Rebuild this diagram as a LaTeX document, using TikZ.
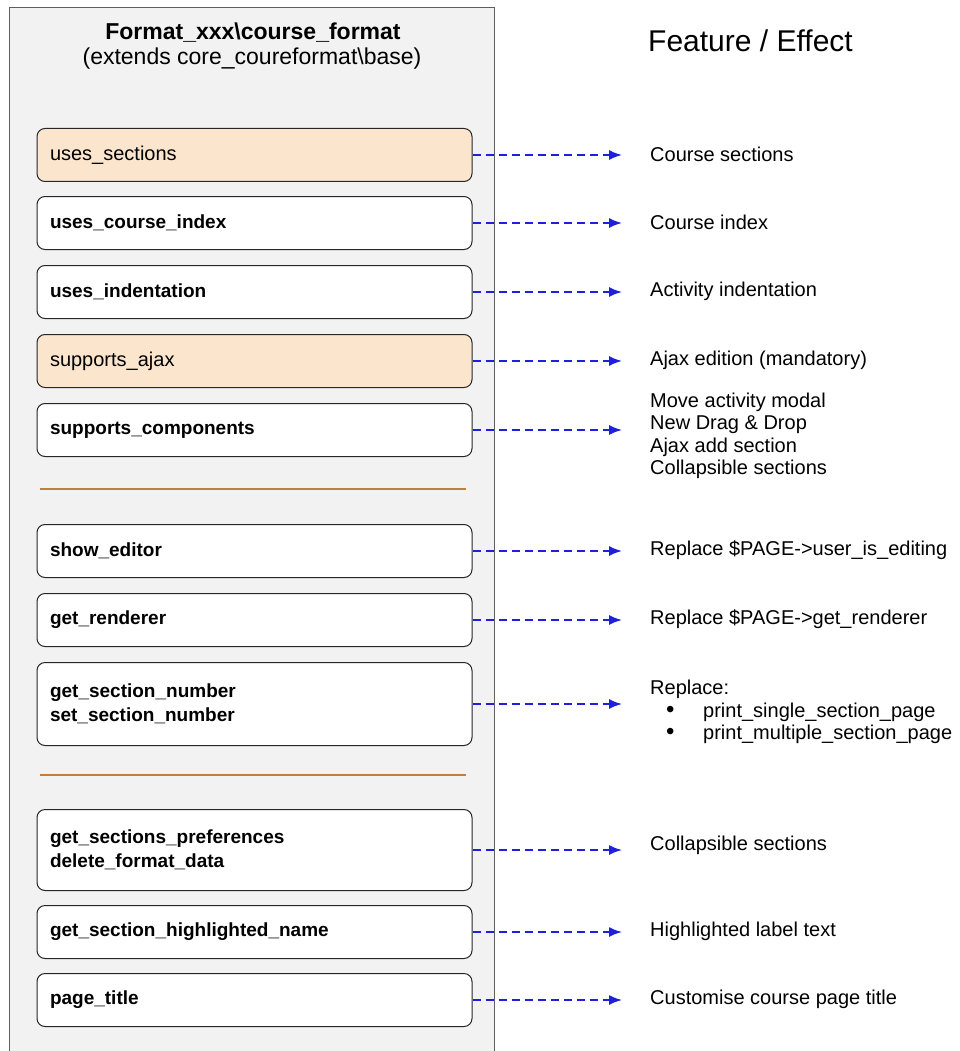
\documentclass[tikz,border=0pt]{standalone}
\usepackage{fontspec}
\setmainfont{Liberation Sans}
\usetikzlibrary{arrows,arrows.meta,positioning}

\definecolor{panelgray}{HTML}{F2F2F2}
\definecolor{paneledge}{HTML}{5F5F5F}
\definecolor{peach}{HTML}{FCE5CD}
\definecolor{rulebrown}{HTML}{C07F3E}
\definecolor{linkblue}{HTML}{1F1FE0}

\newcommand{\effbullet}{\makebox[53pt][l]{\hspace*{16pt}\smash{\fontsize{24}{20}\selectfont\textbullet}}}

\begin{document}
\begin{tikzpicture}[x=1pt,y=1pt,
	method/.style={draw=black!85,line width=1pt,rounded corners=8pt,fill=white,anchor=north,minimum height=53pt,text width=409pt,inner xsep=13pt,align=left,font=\fontsize{19}{24}\selectfont\bfseries},
	plainmethod/.style={method,fill=peach,font=\fontsize{20}{24}\selectfont},
	effect/.style={anchor=west,inner sep=4pt,align=left,font=\fontsize{20}{22.5}\selectfont},
	seprule/.style={rulebrown,line width=1.6pt}]
	\useasboundingbox (0,0) rectangle (959,-1051);
	
	% class panel
	\fill[panelgray] (9,-8) rectangle (494,-1060);
	\draw[paneledge,line width=1pt] (9,-1060) |- (494,-8) -- (494,-1060);
	
	\node[font=\fontsize{23}{26}\selectfont\bfseries,xshift=253pt,yshift=-33pt](T){Format\_xxx\textbackslash course\_format};
	\node[font=\fontsize{23}{26}\selectfont,xshift=252pt,yshift=-59pt](S){(extends core\_coureformat\textbackslash base)};
	\node[effect,font=\fontsize{30}{32}\selectfont,xshift=644pt,yshift=-41pt](H){Feature / Effect};
	
	% methods
	\node[plainmethod,xshift=254.5pt,yshift=-128pt](M1){uses\_sections};
	\node[method,xshift=254.5pt,yshift=-196pt](M2){uses\_course\_index};
	\node[method,xshift=254.5pt,yshift=-265pt](M3){uses\_indentation};
	\node[plainmethod,xshift=254.5pt,yshift=-334pt](M4){supports\_ajax};
	\node[method,xshift=254.5pt,yshift=-403pt](M5){supports\_components};
	
	\draw[seprule] (40,-489) -- (466,-489);
	
	\node[method,xshift=254.5pt,yshift=-524pt](M6){show\_editor};
	\node[method,xshift=254.5pt,yshift=-593pt](M7){get\_renderer};
	\node[method,minimum height=83pt,xshift=254.5pt,yshift=-662pt](M8){get\_section\_number\\set\_section\_number};
	
	\draw[seprule] (40,-775) -- (466,-775);
	
	\node[method,minimum height=81pt,xshift=254.5pt,yshift=-809pt](M9){get\_sections\_preferences\\delete\_format\_data};
	\node[method,xshift=254.5pt,yshift=-905pt](M10){get\_section\_highlighted\_name};
	\node[method,xshift=254.5pt,yshift=-973pt](M11){page\_title};
	
	% effects
	\node[effect,xshift=646pt,yshift=-154.5pt](F1){Course sections};
	\node[effect,xshift=646pt,yshift=-222.5pt](F2){Course index};
	\node[effect,xshift=646pt,yshift=-291.5pt](F3){Activity indentation};
	\node[effect,xshift=646pt,yshift=-360.5pt](F4){Ajax edition (mandatory)};
	\node[effect,xshift=646pt,yshift=-436pt](F5){Move activity modal\\New Drag \& Drop\\Ajax add section\\Collapsible sections};
	\node[effect,xshift=646pt,yshift=-550.5pt](F6){Replace \$PAGE->user\_is\_editing};
	\node[effect,xshift=646pt,yshift=-619.5pt](F7){Replace \$PAGE->get\_renderer};
	\node[effect,xshift=646pt,yshift=-712pt](F8){Replace:\\\effbullet print\_single\_section\_page\\\effbullet print\_multiple\_section\_page};
	\node[effect,xshift=646pt,yshift=-845pt](F9){Collapsible sections};
	\node[effect,xshift=646pt,yshift=-931.5pt](F10){Highlighted label text};
	\node[effect,xshift=646pt,yshift=-999.5pt](F11){Customise course page title};
	
	\path [->,>={Latex[length=13pt,width=10pt]},linkblue,line width=1.6pt,dash pattern=on 8pt off 5pt,shorten >=24pt]
		\foreach \n in {1,...,11} {(M\n.east) edge (M\n.east -| F\n.west)};
\end{tikzpicture}
\end{document}
